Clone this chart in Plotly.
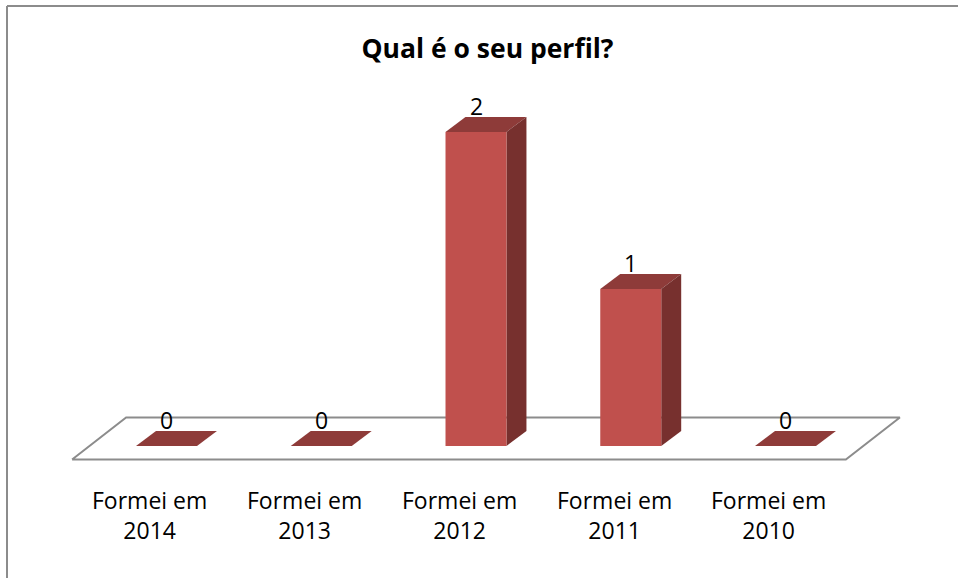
import plotly.graph_objects as go

# ---- data ----
categories = ["Formei em<br>2014", "Formei em<br>2013", "Formei em<br>2012", "Formei em<br>2011", "Formei em<br>2010"]
values = [0, 0, 2, 1, 0]
title_text = "Qual é o seu perfil?"

# ---- styling / geometry (data units of the hidden axes) ----
FRONT = "#C0504D"
TOP = "#8E3B39"
SIDE = "#77302E"
FLOOR_LINE = "#8C8C8C"
FONT = "Open Sans"

hw = 0.197      # half bar width
dx = 0.129      # depth offset in x
dy = 0.0955     # depth offset in y
fx = 0.1745     # floor half depth in x
fy = 0.1338     # floor half depth in y

n = len(categories)
fig = go.Figure()

# floor
fl_x = [-0.5 + dx/2 - fx, n - 0.5 + dx/2 - fx, n - 0.5 + dx/2 + fx, -0.5 + dx/2 + fx, -0.5 + dx/2 - fx]
fl_y = [dy/2 - fy, dy/2 - fy, dy/2 + fy, dy/2 + fy, dy/2 - fy]
fig.add_trace(go.Scatter(x=fl_x, y=fl_y, mode="lines", fill="toself", fillcolor="white",
                         line=dict(color=FLOOR_LINE, width=2), hoverinfo="skip", showlegend=False))

for i, v in enumerate(values):
    # top face
    fig.add_trace(go.Scatter(
        x=[i - hw, i + hw, i + hw + dx, i - hw + dx, i - hw],
        y=[v, v, v + dy, v + dy, v],
        mode="lines", fill="toself", fillcolor=TOP, line=dict(width=0, color=TOP),
        hoverinfo="skip", showlegend=False))
    if v > 0:
        # side face
        fig.add_trace(go.Scatter(
            x=[i + hw, i + hw + dx, i + hw + dx, i + hw, i + hw],
            y=[0, dy, v + dy, v, 0],
            mode="lines", fill="toself", fillcolor=SIDE, line=dict(width=0, color=SIDE),
            hoverinfo="skip", showlegend=False))
        # front face
        fig.add_trace(go.Scatter(
            x=[i - hw, i + hw, i + hw, i - hw, i - hw],
            y=[0, 0, v, v, 0],
            mode="lines", fill="toself", fillcolor=FRONT, line=dict(width=0, color=FRONT),
            hoverinfo="skip", showlegend=False))
    # value label
    fig.add_annotation(x=i, y=v + 0.165, xref="x", yref="y", text=str(v), showarrow=False,
                       xanchor="center", yanchor="middle",
                       font=dict(family=FONT, size=23, color="black"))
    # category label
    fig.add_annotation(x=i - 0.107, y=-0.23, xref="x", yref="y", text=categories[i], showarrow=False,
                       xanchor="center", yanchor="top", align="center",
                       font=dict(family=FONT, size=23, color="black"))

# chart frame (top & left edges visible)
fig.add_shape(type="line", xref="paper", yref="paper", x0=7/958, x1=1.01, y0=1-6/578, y1=1-6/578,
              line=dict(color=FLOOR_LINE, width=2))
fig.add_shape(type="line", xref="paper", yref="paper", x0=7/958, x1=7/958, y0=-0.01, y1=1-6/578,
              line=dict(color=FLOOR_LINE, width=2))

fig.update_layout(
    width=958, height=578,
    margin=dict(l=0, r=0, t=0, b=0),
    paper_bgcolor="white", plot_bgcolor="white",
    title=dict(text="<b>" + title_text + "</b>", x=487.5/958, xanchor="center",
               y=1 - 49/578, yanchor="middle",
               font=dict(family=FONT, size=26.5, color="black")),
    xaxis=dict(range=[-166.5/154.75, (958 - 166.5)/154.75], visible=False, fixedrange=True),
    yaxis=dict(range=[-(578 - 446)/157, 446/157], visible=False, fixedrange=True),
    showlegend=False,
)

fig.write_html("out.html", config={"displayModeBar": False},
               post_script="document.body.style.margin='0';document.body.style.overflow='hidden';")
